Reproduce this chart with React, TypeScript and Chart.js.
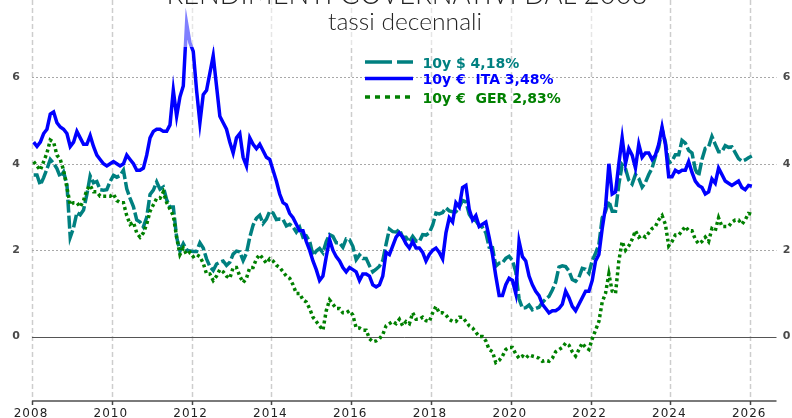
import { useEffect, useRef } from "react";
import { Chart, registerables } from "chart.js";

Chart.register(...registerables);

// ---- data (monthly, starting Jan 2008) ----
const START_YEAR = 2008;
const X_TICKS = [2008, 2010, 2012, 2014, 2016, 2018, 2020, 2022, 2024, 2026];
const Y_TICKS = [0, 2, 4, 6];
const TITLE = "RENDIMENTI GOVERNATIVI DAL 2008";
const SUBTITLE = "tassi decennali";
const LABELS = ["10y $ 4,18%", "10y €  ITA 3,48%", "10y €  GER 2,83%"];
const COLORS = ["#008080", "#0000ff", "#008000"];

const US_10Y = [
  3.74, 3.74, 3.51, 3.68, 3.88, 4.10, 4.01, 3.89, 3.69, 3.81, 3.53, 2.30,
  2.52, 2.87, 2.82, 2.93, 3.29, 3.72, 3.56, 3.59, 3.40, 3.39, 3.40, 3.59,
  3.73, 3.69, 3.73, 3.85, 3.42, 3.20, 3.01, 2.70, 2.65, 2.54, 2.76, 3.29,
  3.39, 3.58, 3.41, 3.46, 3.17, 3.00, 3.00, 2.30, 1.98, 2.15, 2.01, 1.98,
  1.97, 1.97, 2.17, 2.05, 1.80, 1.62, 1.53, 1.68, 1.72, 1.75, 1.65, 1.72,
  1.91, 1.98, 1.96, 1.76, 1.93, 2.30, 2.58, 2.74, 2.81, 2.62, 2.72, 2.90,
  2.86, 2.71, 2.72, 2.71, 2.56, 2.60, 2.54, 2.42, 2.53, 2.30, 2.33, 2.21,
  1.88, 1.98, 2.04, 1.94, 2.20, 2.36, 2.32, 2.17, 2.17, 2.07, 2.26, 2.24,
  2.09, 1.78, 1.89, 1.81, 1.81, 1.64, 1.50, 1.56, 1.63, 1.76, 2.14, 2.49,
  2.43, 2.42, 2.48, 2.30, 2.30, 2.19, 2.32, 2.21, 2.20, 2.36, 2.35, 2.40,
  2.58, 2.86, 2.84, 2.87, 2.98, 2.91, 2.89, 2.89, 3.00, 3.15, 3.12, 2.83,
  2.71, 2.68, 2.57, 2.53, 2.40, 2.07, 2.06, 1.63, 1.70, 1.71, 1.81, 1.86,
  1.76, 1.50, 0.87, 0.66, 0.67, 0.73, 0.62, 0.65, 0.68, 0.79, 0.87, 0.93,
  1.08, 1.26, 1.61, 1.64, 1.62, 1.52, 1.32, 1.28, 1.37, 1.58, 1.56, 1.47,
  1.76, 1.93, 2.13, 2.75, 2.90, 3.14, 2.90, 2.90, 3.52, 3.98, 3.89, 3.62,
  3.53, 3.75, 3.66, 3.46, 3.57, 3.75, 3.90, 4.17, 4.38, 4.80, 4.50, 4.02,
  4.06, 4.21, 4.21, 4.54, 4.48, 4.31, 4.25, 3.87, 3.72, 4.10, 4.36, 4.39,
  4.63, 4.45, 4.28, 4.28, 4.42, 4.38, 4.39, 4.26, 4.12, 4.06, 4.09, 4.14,
  4.18,
];

const ITA_10Y = [
  4.50, 4.40, 4.50, 4.70, 4.80, 5.15, 5.20, 4.95, 4.85, 4.80, 4.70, 4.40,
  4.50, 4.75, 4.60, 4.45, 4.45, 4.65, 4.40, 4.20, 4.10, 4.00, 3.95, 4.00,
  4.05, 4.00, 3.95, 4.00, 4.20, 4.10, 4.00, 3.85, 3.85, 3.90, 4.20, 4.60,
  4.75, 4.80, 4.80, 4.75, 4.75, 4.90, 5.70, 5.10, 5.55, 5.80, 7.25, 6.80,
  6.60, 5.70, 4.95, 5.60, 5.70, 6.10, 6.50, 5.80, 5.10, 4.95, 4.80, 4.50,
  4.25, 4.60, 4.70, 4.15, 3.95, 4.60, 4.45, 4.35, 4.45, 4.30, 4.15, 4.10,
  3.85, 3.60, 3.30, 3.10, 3.05, 2.85, 2.75, 2.60, 2.45, 2.45, 2.20, 2.00,
  1.75, 1.55, 1.30, 1.40, 1.85, 2.25, 2.00, 1.85, 1.75, 1.60, 1.50, 1.60,
  1.55, 1.50, 1.30, 1.45, 1.45, 1.40, 1.20, 1.15, 1.20, 1.40, 1.95, 1.90,
  2.10, 2.30, 2.40, 2.30, 2.15, 2.05, 2.20, 2.05, 2.05, 1.95, 1.75, 1.90,
  2.00, 2.05, 1.95, 1.80, 2.40, 2.75, 2.65, 3.10, 3.00, 3.45, 3.50, 2.95,
  2.70, 2.80, 2.55, 2.60, 2.65, 2.30, 1.90, 1.40, 0.95, 0.95, 1.20, 1.35,
  1.30, 1.00, 2.20, 1.85, 1.75, 1.40, 1.20, 1.05, 0.95, 0.75, 0.65, 0.55,
  0.60, 0.60, 0.65, 0.75, 1.05, 0.90, 0.70, 0.60, 0.75, 0.90, 1.05, 1.05,
  1.30, 1.75, 1.90, 2.50, 3.00, 4.00, 3.30, 3.35, 4.00, 4.60, 4.00, 4.35,
  4.20, 3.90, 4.45, 4.15, 4.25, 4.25, 4.10, 4.20, 4.45, 4.85, 4.45, 3.70,
  3.70, 3.85, 3.80, 3.85, 3.85, 4.05, 3.80, 3.60, 3.50, 3.45, 3.30, 3.35,
  3.65, 3.55, 3.90, 3.75, 3.60, 3.55, 3.50, 3.55, 3.60, 3.45, 3.40, 3.50,
  3.48,
];

const GER_10Y = [
  4.05, 3.95, 3.85, 4.05, 4.25, 4.55, 4.50, 4.20, 4.10, 3.85, 3.45, 3.05,
  3.10, 3.10, 3.00, 3.15, 3.40, 3.50, 3.35, 3.35, 3.25, 3.25, 3.25, 3.25,
  3.30, 3.15, 3.10, 3.10, 2.80, 2.60, 2.65, 2.40, 2.30, 2.40, 2.60, 2.90,
  3.05, 3.20, 3.20, 3.35, 3.10, 2.95, 2.80, 2.30, 1.90, 2.05, 1.90, 1.95,
  1.85, 1.90, 1.85, 1.70, 1.45, 1.45, 1.30, 1.40, 1.55, 1.50, 1.40, 1.35,
  1.60, 1.60, 1.40, 1.25, 1.35, 1.60, 1.60, 1.80, 1.90, 1.80, 1.70, 1.80,
  1.75, 1.65, 1.60, 1.50, 1.40, 1.35, 1.20, 1.00, 1.00, 0.85, 0.80, 0.65,
  0.45, 0.35, 0.25, 0.15, 0.60, 0.85, 0.75, 0.65, 0.65, 0.55, 0.55, 0.60,
  0.50, 0.20, 0.20, 0.15, 0.15, -0.05, -0.12, -0.10, -0.05, 0.05, 0.25, 0.30,
  0.35, 0.30, 0.40, 0.25, 0.35, 0.30, 0.55, 0.40, 0.40, 0.45, 0.37, 0.35,
  0.55, 0.70, 0.55, 0.55, 0.50, 0.40, 0.35, 0.35, 0.45, 0.45, 0.35, 0.25,
  0.20, 0.10, 0.00, 0.00, -0.10, -0.30, -0.35, -0.60, -0.55, -0.45, -0.30, -0.25,
  -0.25, -0.40, -0.50, -0.45, -0.50, -0.42, -0.45, -0.47, -0.50, -0.57, -0.55, -0.57,
  -0.50, -0.35, -0.30, -0.25, -0.15, -0.20, -0.35, -0.45, -0.30, -0.15, -0.25, -0.30,
  -0.05, 0.15, 0.35, 0.80, 1.00, 1.45, 1.05, 1.00, 1.75, 2.20, 2.00, 2.10,
  2.25, 2.45, 2.30, 2.35, 2.30, 2.40, 2.50, 2.55, 2.70, 2.80, 2.60, 2.10,
  2.20, 2.35, 2.35, 2.45, 2.55, 2.45, 2.45, 2.25, 2.15, 2.20, 2.30, 2.20,
  2.50, 2.45, 2.75, 2.55, 2.55, 2.55, 2.65, 2.70, 2.70, 2.60, 2.70, 2.85,
  2.83,
];

const toPoints = (arr: number[]) =>
  arr.map((v, i) => ({ x: START_YEAR + (i + 0.5) / 12, y: v }));

function drawFitted(
  ctx: CanvasRenderingContext2D,
  text: string,
  font: string,
  cx: number,
  baseline: number,
  targetW: number
) {
  ctx.save();
  ctx.font = font;
  const w = ctx.measureText(text).width || 1;
  ctx.translate(cx, baseline);
  ctx.scale(targetW / w, 1);
  ctx.textAlign = "center";
  ctx.textBaseline = "alphabetic";
  ctx.fillText(text, 0, 0);
  ctx.restore();
}

const decorPlugin = {
  id: "decor",
  beforeDatasetsDraw(chart: any) {
    const { ctx, chartArea: a } = chart;
    const xs = chart.scales.x;
    const ys = chart.scales.y;
    ctx.save();
    // vertical grid
    ctx.strokeStyle = "#cdcdcd";
    ctx.lineWidth = 1.5;
    ctx.setLineDash([5, 3]);
    X_TICKS.forEach((t) => {
      const px = Math.round(xs.getPixelForValue(t)) + 0.5;
      ctx.beginPath();
      ctx.moveTo(px, a.top);
      ctx.lineTo(px, a.bottom);
      ctx.stroke();
    });
    // horizontal grid
    Y_TICKS.forEach((v) => {
      const py = Math.round(ys.getPixelForValue(v)) + 0.5;
      ctx.beginPath();
      if (v === 0) {
        ctx.setLineDash([]);
        ctx.strokeStyle = "#555";
        ctx.lineWidth = 1;
      } else {
        ctx.setLineDash([2, 2]);
        ctx.strokeStyle = "#a8a8a8";
        ctx.lineWidth = 1;
      }
      ctx.moveTo(a.left, py);
      ctx.lineTo(a.right, py);
      ctx.stroke();
    });
    // x axis line
    ctx.setLineDash([]);
    ctx.strokeStyle = "#7a7a7a";
    ctx.lineWidth = 2;
    ctx.beginPath();
    ctx.moveTo(a.left, a.bottom);
    ctx.lineTo(a.right, a.bottom);
    ctx.stroke();
    ctx.strokeStyle = "#444";
    ctx.lineWidth = 1.5;
    X_TICKS.forEach((t) => {
      const px = Math.round(xs.getPixelForValue(t)) + 0.5;
      ctx.beginPath();
      ctx.moveTo(px, a.bottom);
      ctx.lineTo(px, a.bottom + 4);
      ctx.stroke();
    });
    ctx.restore();
  },
  afterDatasetsDraw(chart: any) {
    const { ctx, chartArea: a } = chart;
    const xs = chart.scales.x;
    const ys = chart.scales.y;
    ctx.save();
    // semi-transparent title box
    ctx.fillStyle = "rgba(255,255,255,0.5)";
    ctx.fillRect(140, 0, 525, 47);
    // title + subtitle
    ctx.fillStyle = "#222";
    drawFitted(ctx, TITLE, "300 31px Lato, 'DejaVu Sans', sans-serif", 407, 4, 481);
    drawFitted(ctx, SUBTITLE, "300 23px Lato, 'DejaVu Sans', sans-serif", 405, 30, 154);

    // y labels both sides
    ctx.font = "bold 11px 'DejaVu Sans', sans-serif";
    ctx.fillStyle = "#4a4a4a";
    ctx.textAlign = "center";
    ctx.textBaseline = "middle";
    Y_TICKS.forEach((v) => {
      const py = ys.getPixelForValue(v);
      ctx.fillText(String(v), 16, py);
      ctx.fillText(String(v), 786.5, py);
    });
    // x labels
    ctx.font = "12px 'DejaVu Sans', sans-serif";
    (ctx as any).letterSpacing = "1px";
    ctx.fillStyle = "#222";
    ctx.textBaseline = "alphabetic";
    X_TICKS.forEach((t) => {
      const px = xs.getPixelForValue(t);
      ctx.fillText(String(t), px - 1, 417);
    });
    (ctx as any).letterSpacing = "0px";

    // legend
    const legY = [62, 78.5, 97];
    const baseY = [67.5, 84, 102.5];
    const dashes = [[27, 5], [], [5, 5]];
    for (let i = 0; i < 3; i++) {
      ctx.strokeStyle = COLORS[i];
      ctx.lineWidth = 3.5;
      ctx.lineCap = "butt";
      ctx.setLineDash(dashes[i]);
      ctx.beginPath();
      ctx.moveTo(365, legY[i]);
      ctx.lineTo(413, legY[i]);
      ctx.stroke();
      ctx.setLineDash([]);
      ctx.font = "bold 14px 'DejaVu Sans', sans-serif";
      ctx.fillStyle = COLORS[i];
      ctx.textAlign = "left";
      ctx.textBaseline = "alphabetic";
      ctx.fillText(LABELS[i], 422.5, baseY[i]);
    }
    ctx.restore();
  },
};

export default function App() {
  const ref = useRef<HTMLCanvasElement | null>(null);
  useEffect(() => {
    if (!ref.current) return;
    const chart = new Chart(ref.current, {
      type: "line",
      data: {
        datasets: [
          {
            label: LABELS[0],
            data: toPoints(US_10Y),
            borderColor: COLORS[0],
            borderWidth: 3.5,
            borderDash: [13, 3],
            pointRadius: 0,
            tension: 0,
            order: 3,
          },
          {
            label: LABELS[1],
            data: toPoints(ITA_10Y),
            borderColor: COLORS[1],
            borderWidth: 3.5,
            pointRadius: 0,
            tension: 0,
            order: 2,
          },
          {
            label: LABELS[2],
            data: toPoints(GER_10Y),
            borderColor: COLORS[2],
            borderWidth: 3.5,
            borderDash: [3, 3],
            pointRadius: 0,
            tension: 0,
            order: 1,
          },
        ],
      },
      options: {
        animation: false,
        responsive: false,
        devicePixelRatio: 1,
        layout: { padding: { top: 0, left: 32, right: 15.5, bottom: 17 } },
        plugins: { legend: { display: false }, title: { display: false }, tooltip: { enabled: false } },
        scales: {
          x: { type: "linear", min: 2008, max: 2026.66, display: false },
          y: { type: "linear", min: -1.49, max: 7.79, display: false },
        },
      },
      plugins: [decorPlugin],
    });
    return () => chart.destroy();
  }, []);
  return (
    <div style={{ position: "fixed", left: 0, top: 0, width: 792, height: 418, background: "#fff" }}>
      <canvas ref={ref} width={792} height={418} style={{ display: "block" }} />
    </div>
  );
}
